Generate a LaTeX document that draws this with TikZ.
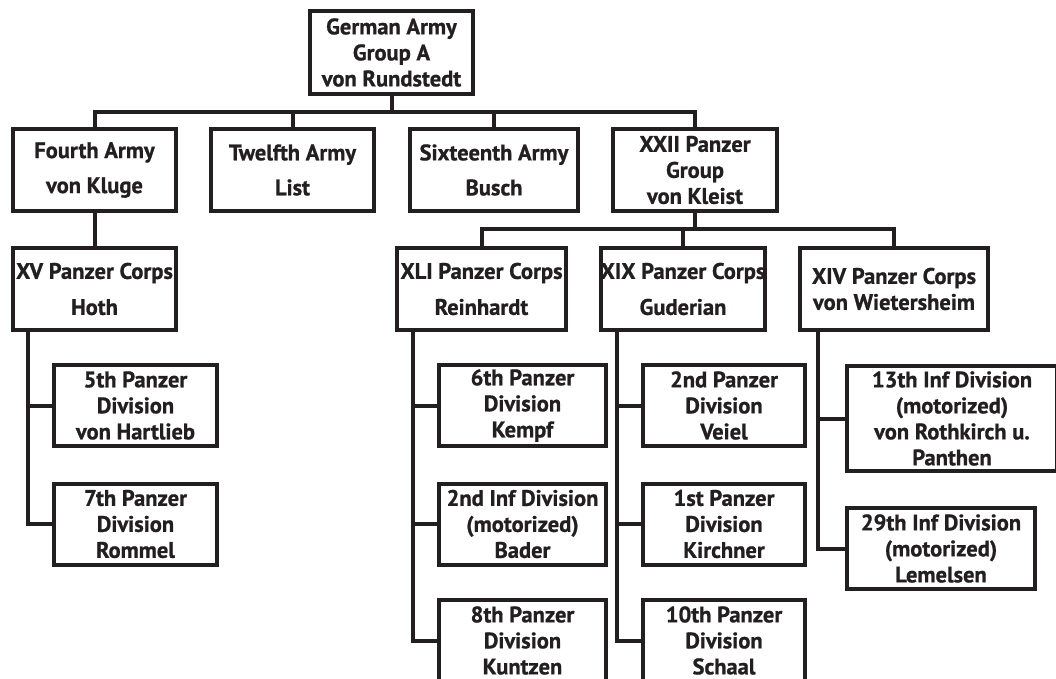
\documentclass[tikz,border=0pt]{standalone}
\usepackage{fontspec}
\setmainfont{PT Sans}[BoldFeatures={FakeBold=0.9}]
\usepackage{tikz}
\usetikzlibrary{positioning}
\definecolor{ink}{RGB}{35,31,32}
\tikzstyle{unit} = [rectangle, draw=ink, line width=4pt, text=ink, align=center, inner sep=0pt, font=\bfseries\fontsize{22.5}{26}\selectfont]
\tikzstyle{army} = [unit, minimum width=163pt, minimum height=82pt]
\tikzstyle{corps} = [unit, minimum width=163pt, minimum height=82pt]
\tikzstyle{division} = [unit, minimum width=163pt, minimum height=81pt]
\tikzstyle{link} = [draw=ink, line width=4pt]

\begin{document}
\begin{tikzpicture}[x=1pt, y=-1pt]
\useasboundingbox (0,0) rectangle (1056,679);
\node (ga) [unit, minimum width=163pt, minimum height=83pt] at (391.5,52.5) {German Army\\Group A\\von Rundstedt};
\node (fourth) [army] at (94.5,170) {Fourth Army\\[9pt]von Kluge};
\node (twelfth) [army] at (292.5,170) {Twelfth Army\\[9pt]List};
\node (sixteenth) [army, minimum width=168pt] at (494,170) {Sixteenth Army\\[9pt]Busch};
\node (xxii) [army, minimum width=164pt] at (695,170) {XXII Panzer\\Group\\von Kleist};
\node (xv) [corps] at (94.5,289) {XV Panzer Corps\\[10pt]Hoth};
\node (xli) [corps, minimum width=169pt] at (481.5,289) {XLI Panzer Corps\\[10pt]Reinhardt};
\node (xix) [corps, minimum width=162pt] at (683,289) {XIX Panzer Corps\\[10pt]Guderian};
\node (xiv) [corps, minimum width=188pt] at (894,289) {XIV Panzer Corps\\von Wietersheim};
\node (d5) [division] at (135.5,405.5) {5th Panzer\\Division\\von Hartlieb};
\node (d7) [division] at (135.5,524) {7th Panzer\\Division\\Rommel};
\node (d6) [division, minimum width=167pt] at (522.5,405.5) {6th Panzer\\Division\\Kempf};
\node (i2) [division, minimum width=167pt] at (522.5,524) {2nd Inf Division\\(motorized)\\Bader};
\node (d8) [division, minimum width=167pt] at (522.5,640.5) {8th Panzer\\Division\\Kuntzen};
\node (d2) [division, minimum width=162pt] at (724,405.5) {2nd Panzer\\Division\\Veiel};
\node (d1) [division, minimum width=162pt] at (724,524) {1st Panzer\\Division\\Kirchner};
\node (d10) [division, minimum width=162pt] at (724,640.5) {10th Panzer\\Division\\Schaal};
\node (i13) [division, minimum width=210pt, minimum height=105pt] at (952,418.5) {13th Inf Division\\(motorized)\\von Rothkirch u.\\Panthen};
\node (i29) [division, minimum width=188pt] at (941,548.5) {29th Inf Division\\(motorized)\\Lemelsen};
\draw [link] (ga.south) -- ++(0,16) -| (fourth.north);
\draw [link] (ga.south) -- ++(0,16) -| (twelfth.north);
\draw [link] (ga.south) -- ++(0,16) -| (sixteenth.north);
\draw [link] (ga.south) -- ++(0,16) -| (xxii.north);
\draw [link] (fourth.south) -- (xv.north);
\draw [link] (xxii.south) -- ++(0,16) -| (xli.north);
\draw [link] (xxii.south) -- ++(0,16) -| (xix.north);
\draw [link] (xxii.south) -- ++(0,16) -| (xiv.north);
\draw [link] ([xshift=-66.5pt]xv.south) |- (d5.west);
\draw [link] ([xshift=-66.5pt]xv.south) |- (d7.west);
\draw [link] ([xshift=-68.5pt]xli.south) |- (d6.west);
\draw [link] ([xshift=-68.5pt]xli.south) |- (i2.west);
\draw [link] ([xshift=-68.5pt]xli.south) |- (d8.west);
\draw [link] ([xshift=-66pt]xix.south) |- (d2.west);
\draw [link] ([xshift=-66pt]xix.south) |- (d1.west);
\draw [link] ([xshift=-66pt]xix.south) |- (d10.west);
\draw [link] ([xshift=-76pt]xiv.south) |- (i13.west);
\draw [link] ([xshift=-76pt]xiv.south) |- (i29.west);
\end{tikzpicture}
\end{document}
